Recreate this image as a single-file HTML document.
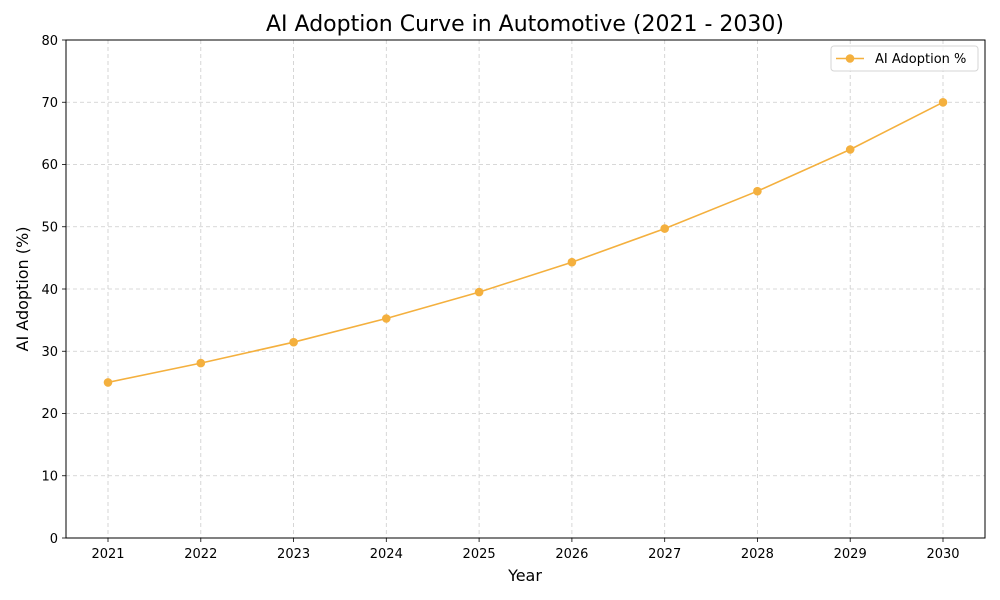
<!DOCTYPE html>
<html><head><meta charset="utf-8"><style>body{margin:0;background:#fff}svg{display:block}</style></head>
<body>
<svg width="1000" height="600" xmlns="http://www.w3.org/2000/svg" font-family="DejaVu Sans, Liberation Sans, sans-serif">
<rect width="1000" height="600" fill="#fff"/>
<g stroke="#cccccc" stroke-width="0.8" stroke-dasharray="4,3">
<line x1="108" y1="40" x2="108" y2="538"/><line x1="200.8" y1="40" x2="200.8" y2="538"/><line x1="293.6" y1="40" x2="293.6" y2="538"/><line x1="386.3" y1="40" x2="386.3" y2="538"/><line x1="479.1" y1="40" x2="479.1" y2="538"/><line x1="571.9" y1="40" x2="571.9" y2="538"/><line x1="664.7" y1="40" x2="664.7" y2="538"/><line x1="757.4" y1="40" x2="757.4" y2="538"/><line x1="850.2" y1="40" x2="850.2" y2="538"/><line x1="943" y1="40" x2="943" y2="538"/>
<line x1="66" y1="475.75" x2="985" y2="475.75"/><line x1="66" y1="413.5" x2="985" y2="413.5"/><line x1="66" y1="351.25" x2="985" y2="351.25"/><line x1="66" y1="289" x2="985" y2="289"/><line x1="66" y1="226.75" x2="985" y2="226.75"/><line x1="66" y1="164.5" x2="985" y2="164.5"/><line x1="66" y1="102.25" x2="985" y2="102.25"/>
</g>
<rect x="66" y="40" width="919" height="498" fill="none" stroke="#000" stroke-width="1"/>
<g stroke="#000" stroke-width="0.8">
<line x1="108" y1="538" x2="108" y2="542"/><line x1="200.8" y1="538" x2="200.8" y2="542"/><line x1="293.6" y1="538" x2="293.6" y2="542"/><line x1="386.3" y1="538" x2="386.3" y2="542"/><line x1="479.1" y1="538" x2="479.1" y2="542"/><line x1="571.9" y1="538" x2="571.9" y2="542"/><line x1="664.7" y1="538" x2="664.7" y2="542"/><line x1="757.4" y1="538" x2="757.4" y2="542"/><line x1="850.2" y1="538" x2="850.2" y2="542"/><line x1="943" y1="538" x2="943" y2="542"/>
<line x1="62" y1="538" x2="66" y2="538"/><line x1="62" y1="475.75" x2="66" y2="475.75"/><line x1="62" y1="413.5" x2="66" y2="413.5"/><line x1="62" y1="351.25" x2="66" y2="351.25"/><line x1="62" y1="289" x2="66" y2="289"/><line x1="62" y1="226.75" x2="66" y2="226.75"/><line x1="62" y1="164.5" x2="66" y2="164.5"/><line x1="62" y1="102.25" x2="66" y2="102.25"/><line x1="62" y1="40" x2="66" y2="40"/>
</g>
<g font-size="13" text-anchor="middle" fill="#000">
<text x="108" y="558">2021</text><text x="200.8" y="558">2022</text><text x="293.6" y="558">2023</text><text x="386.3" y="558">2024</text><text x="479.1" y="558">2025</text><text x="571.9" y="558">2026</text><text x="664.7" y="558">2027</text><text x="757.4" y="558">2028</text><text x="850.2" y="558">2029</text><text x="943" y="558">2030</text>
</g>
<g font-size="13" text-anchor="end" fill="#000">
<text x="58" y="543">0</text><text x="58" y="480.5">10</text><text x="58" y="418">20</text><text x="58" y="356">30</text><text x="58" y="294">40</text><text x="58" y="231.5">50</text><text x="58" y="169">60</text><text x="58" y="107">70</text><text x="58" y="45">80</text>
</g>
<text x="525" y="581" font-size="16" text-anchor="middle">Year</text>
<text x="28" y="289" font-size="16" text-anchor="middle" transform="rotate(-90 28 289)">AI Adoption (%)</text>
<text x="525" y="31" font-size="22" text-anchor="middle">AI Adoption Curve in Automotive (2021 - 2030)</text>
<polyline fill="none" stroke="#F4B03E" stroke-width="1.6" points="108,382.4 200.8,363.1 293.6,342.2 386.3,318.5 479.1,292.1 571.9,262.2 664.7,228.6 757.4,191.2 850.2,149.5 943,102.3"/>
<g fill="#F4B03E">
<circle cx="108" cy="382.4" r="4.3"/><circle cx="200.8" cy="363.1" r="4.3"/><circle cx="293.6" cy="342.2" r="4.3"/><circle cx="386.3" cy="318.5" r="4.3"/><circle cx="479.1" cy="292.1" r="4.3"/><circle cx="571.9" cy="262.2" r="4.3"/><circle cx="664.7" cy="228.6" r="4.3"/><circle cx="757.4" cy="191.2" r="4.3"/><circle cx="850.2" cy="149.5" r="4.3"/><circle cx="943" cy="102.3" r="4.3"/>
</g>
<rect x="831" y="46" width="147" height="25" rx="3" fill="#fff" fill-opacity="0.8" stroke="#d6d6d6"/>
<line x1="836" y1="58.5" x2="864" y2="58.5" stroke="#F4B03E" stroke-width="1.6"/>
<circle cx="850" cy="58.5" r="4.3" fill="#F4B03E"/>
<text x="875" y="63" font-size="13">AI Adoption %</text>
</svg>
</body></html>
